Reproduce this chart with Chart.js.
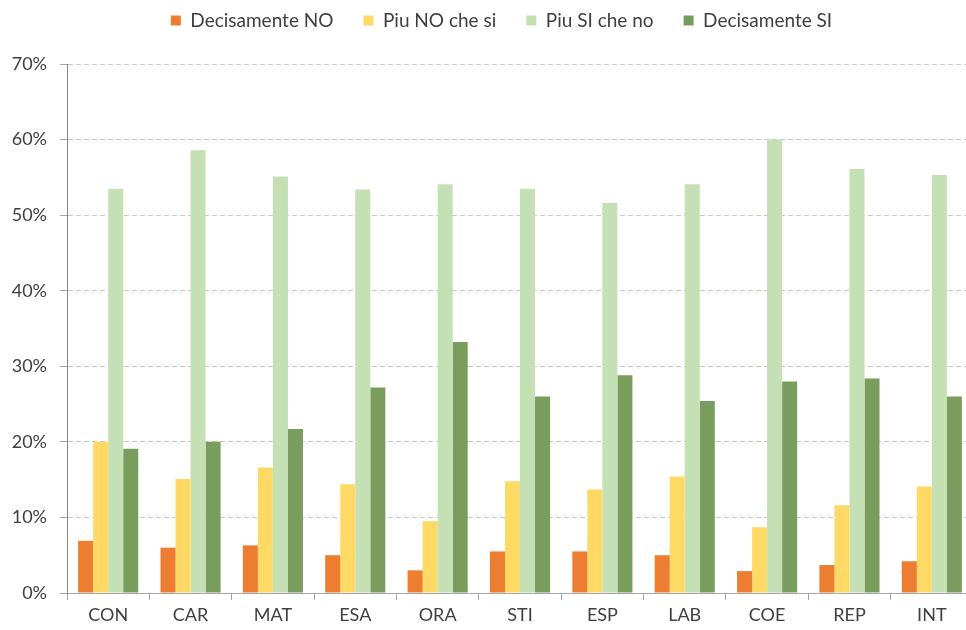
<!DOCTYPE html>
<html>
<head>
<meta charset="utf-8">
<script src="https://cdn.jsdelivr.net/npm/chart.js@4/dist/chart.umd.min.js"></script>
<style>
  html, body { margin: 0; padding: 0; background: #fff; overflow: hidden; }
  #wrap { width: 973px; height: 630px; position: relative; }
</style>
</head>
<body>
<div id="wrap"><canvas id="c" width="973" height="630"></canvas></div>
<script>
const categories = ['CON','CAR','MAT','ESA','ORA','STI','ESP','LAB','COE','REP','INT'];
const seriesNames = ['Decisamente NO','Piu NO che si','Piu SI che no','Decisamente SI'];
const decisamenteNo = [6.9, 6.0, 6.3, 5.0, 3.0, 5.5, 5.5, 5.0, 2.9, 3.7, 4.2];
const piuNoCheSi   = [20.0, 15.1, 16.6, 14.4, 9.5, 14.8, 13.7, 15.4, 8.7, 11.6, 14.1];
const piuSiCheNo   = [53.5, 58.6, 55.1, 53.4, 54.1, 53.5, 51.6, 54.1, 60.0, 56.1, 55.3];
const decisamenteSi = [19.1, 20.0, 21.7, 27.2, 33.2, 26.0, 28.8, 25.4, 28.0, 28.4, 26.0];
const yTicks = [0, 10, 20, 30, 40, 50, 60, 70];

const colors = ['#ED7D31', '#FFD966', '#C5E0B4', '#799D5C'];
const FONT = 'Lato, "Open Sans", sans-serif';
const TXT = '#404040';

const legendHeight = {
  id: 'legendHeight',
  beforeInit(chart) {
    const orig = chart.legend.fit;
    chart.legend.fit = function () { orig.bind(chart.legend)(); this.height = 83; };
  },
  afterLayout(chart) {
    chart.legend.left += 15;
    chart.legend.right += 15;
  }
};

new Chart(document.getElementById('c'), {
  type: 'bar',
  data: {
    labels: categories,
    datasets: [decisamenteNo, piuNoCheSi, piuSiCheNo, decisamenteSi].map((d, i) => ({
      label: seriesNames[i],
      data: d,
      backgroundColor: colors[i],
      borderWidth: 0,
      barPercentage: 1.0,
      categoryPercentage: 0.73
    }))
  },
  options: {
    responsive: false,
    animation: false,
    layout: { padding: { top: -19, right: 0, left: 0, bottom: 0 } },
    plugins: {
      legend: {
        position: 'top',
        labels: {
          font: { family: FONT, size: 19 },
          color: TXT,
          boxWidth: 10,
          boxHeight: 10,
          padding: 30
        }
      },
      tooltip: { enabled: false }
    },
    scales: {
      x: {
        grid: { display: true, drawOnChartArea: false, drawTicks: true, tickLength: 7, color: '#A6A6A6', offset: true },
        border: { display: true, color: '#A6A6A6', width: 1 },
        ticks: { font: { family: FONT, size: 18 }, color: TXT, padding: 4 },
        afterFit(s) { s.height = 37; }
      },
      y: {
        min: 0, max: 70,
        afterBuildTicks(s) { s.ticks = yTicks.map(v => ({ value: v })); },
        grid: { color: '#C8C8C8', lineWidth: 1, tickLength: 7, tickColor: '#A6A6A6', tickBorderDash: [] },
        border: { display: true, color: '#888888', width: 1, dash: [5, 3] },
        ticks: { font: { family: FONT, size: 18 }, color: TXT, padding: 13, callback: v => v + '%' },
        afterFit(s) { s.width = 67; }
      }
    }
  },
  plugins: [legendHeight]
});
</script>
</body>
</html>
